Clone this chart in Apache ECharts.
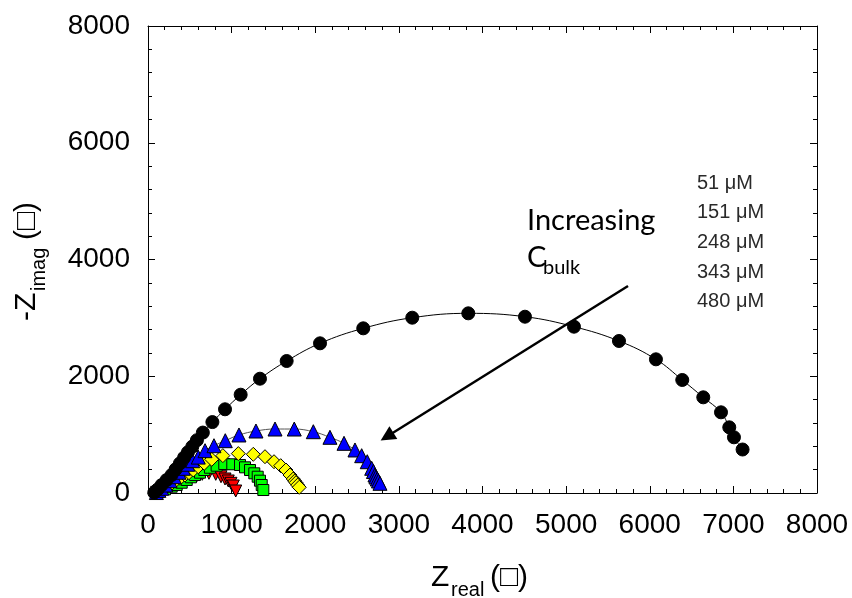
<!DOCTYPE html>
<html>
<head>
<meta charset="utf-8">
<script src="https://cdn.jsdelivr.net/npm/echarts@6/dist/echarts.min.js"></script>
<style>
html,body{margin:0;padding:0;background:#fff;}
#chart{width:852px;height:598px;}
</style>
</head>
<body>
<div id="chart"></div>
<script>
// Nyquist spectra [Z_real, -Z_imag] for each bulk concentration
const z51 = [[75,8],[115,60],[162,135],[222,222],[282,308],[330,405],[382,508],[432,608],[478,700],[530,795],[585,905],[656,1035],[770,1215],[921,1434],[1108,1684],[1339,1958],[1658,2261],[2057,2564],[2574,2821],[3160,3003],[3830,3078],[4508,3020],[5094,2849],[5632,2604],[6074,2290],[6389,1936],[6640,1639],[6852,1382],[6951,1125],[7007,954],[7110,745]];
const z151 = [[100,8],[130,45],[164,81],[212,137],[263,211],[314,279],[371,355],[422,423],[475,492],[534,553],[601,615],[682,725],[789,810],[924,896],[1088,994],[1291,1062],[1519,1096],[1749,1096],[1977,1050],[2176,954],[2344,851],[2475,737],[2555,639],[2622,536],[2675,423],[2696,368],[2714,308],[2726,274],[2742,240],[2756,206],[2774,166]];
const z248 = [[104,22],[183,81],[240,125],[283,166],[331,211],[383,252],[442,308],[490,348],[542,394],[601,450],[673,509],[762,577],[895,640],[1080,675],[1259,663],[1399,622],[1507,536],[1587,468],[1650,394],[1698,308],[1737,240],[1755,205],[1770,176],[1790,135],[1809,98]];
const z343 = [[123,22],[203,63],[283,108],[343,137],[403,176],[463,223],[514,269],[562,308],[622,348],[673,394],[741,433],[821,468],[912,497],[1008,492],[1100,480],[1160,440],[1220,394],[1271,337],[1312,279],[1339,211],[1360,137],[1379,51]];
const z480 = [[104,12],[164,39],[243,81],[315,125],[383,166],[451,211],[514,252],[582,291],[649,320],[729,337],[810,320],[873,279],[921,240],[960,206],[992,166],[1020,120],[1049,34]];

const concentrations = ['51 μM','151 μM','248 μM','343 μM','480 μM'];

// axis ranges and tick steps
const xRange = [0, 8000], xStep = 1000;
const yRange = [0, 8000], yStep = 2000;

// arrow across the arcs, in data coordinates: [start, end]
const trendArrow = [[5740, 3546], [2858, 968]];

const TICK_FONT = 'Liberation Sans, Arial, sans-serif';
const NOTE_FONT = 'Lato, Open Sans, sans-serif';

const chart = echarts.init(document.getElementById('chart'), null, {renderer: 'canvas'});

function frameAxis(base) {
  return Object.assign({
    type: 'value',
    axisLine: {show: true, onZero: false, lineStyle: {color: '#000', width: 1}},
    axisTick: {show: true, inside: true, length: 7, lineStyle: {color: '#000', width: 1}},
    minorTick: {show: true, splitNumber: 5, length: 4, lineStyle: {color: '#000', width: 1}},
    splitLine: {show: false},
    minorSplitLine: {show: false}
  }, base);
}

const labelStyle = {color: '#000', fontSize: 28, fontFamily: TICK_FONT, formatter: v => String(v)};

function scatterSeries(name, data, symbol, size, fill, extra) {
  return Object.assign({
    name: name,
    type: 'line',
    data: data,
    symbol: symbol,
    symbolSize: size,
    showSymbol: true,
    smooth: false,
    lineStyle: {width: 0, opacity: 0},
    itemStyle: {color: fill, borderColor: '#000', borderWidth: 1},
    emphasis: {disabled: true},
    animation: false,
    clip: false
  }, extra || {});
}

function textEl(text, x, y, size, family, extra, fill) {
  return Object.assign({
    type: 'text',
    x: x, y: y,
    silent: true,
    style: {
      text: text,
      fontSize: size,
      fontFamily: family,
      fill: fill || '#000',
      align: 'left', textAlign: 'left',
      verticalAlign: 'middle', textVerticalAlign: 'middle'
    }
  }, extra || {});
}

const legendEls = concentrations.map((c, i) =>
  textEl(c, 697, 183 + i * 29.7, 20, TICK_FONT, null, '#2a2a2a')
);

const rot = Math.PI / 2;

chart.setOption({
  backgroundColor: '#fff',
  animation: false,
  grid: {left: 148, right: 35, top: 26, bottom: 105, containLabel: false},
  xAxis: [
    frameAxis({min: xRange[0], max: xRange[1], interval: xStep, position: 'bottom',
      axisLabel: Object.assign({show: true, margin: 18}, labelStyle)}),
    frameAxis({min: xRange[0], max: xRange[1], interval: xStep, position: 'top',
      axisLabel: {show: false}})
  ],
  yAxis: [
    frameAxis({min: yRange[0], max: yRange[1], interval: yStep, position: 'left',
      axisLabel: Object.assign({show: true, margin: 18}, labelStyle)}),
    frameAxis({min: yRange[0], max: yRange[1], interval: yStep, position: 'right',
      axisLabel: {show: false}})
  ],
  series: [
    scatterSeries(concentrations[4], z480, 'triangle', 12, '#ff0000', {symbolRotate: 180}),
    scatterSeries(concentrations[3], z343, 'rect', 11, '#00ff00'),
    scatterSeries(concentrations[2], z248, 'diamond', 14, '#ffff00'),
    scatterSeries(concentrations[1], z151, 'triangle', 14, '#0000ff',
      {smooth: 0.4, lineStyle: {width: 1, color: '#555'}}),
    scatterSeries(concentrations[0], z51, 'circle', 13, '#000',
      {smooth: 0.4, lineStyle: {width: 1, color: '#000'},
       markLine: {
         silent: true,
         animation: false,
         label: {show: false},
         emphasis: {disabled: true},
         lineStyle: {color: '#000', width: 2.5, type: 'solid'},
         symbol: ['none', 'triangle'],
         symbolSize: 15,
         data: [[{coord: trendArrow[0]}, {coord: trendArrow[1]}]]
       }})
  ],
  graphic: [
    // x axis title: Z_real (□)
    textEl('Z', 431, 577.5, 30, TICK_FONT),
    textEl('real', 451, 590, 20, TICK_FONT),
    textEl('(\u25A1)', 490, 577.5, 30, TICK_FONT),
    // y axis title: -Z_imag (□), reading bottom to top
    textEl('-Z', 26.7, 321, 30, TICK_FONT, {rotation: rot}),
    textEl('imag', 39.7, 291, 20, TICK_FONT, {rotation: rot}),
    textEl('(\u25A1)', 26.7, 240, 30, TICK_FONT, {rotation: rot}),
    // trend note
    textEl('Increasing', 527, 220.5, 29, NOTE_FONT),
    textEl('C', 527, 257.3, 29, NOTE_FONT),
    textEl('bulk', 543, 268, 20, NOTE_FONT)
  ].concat(legendEls)
});
</script>
</body>
</html>
